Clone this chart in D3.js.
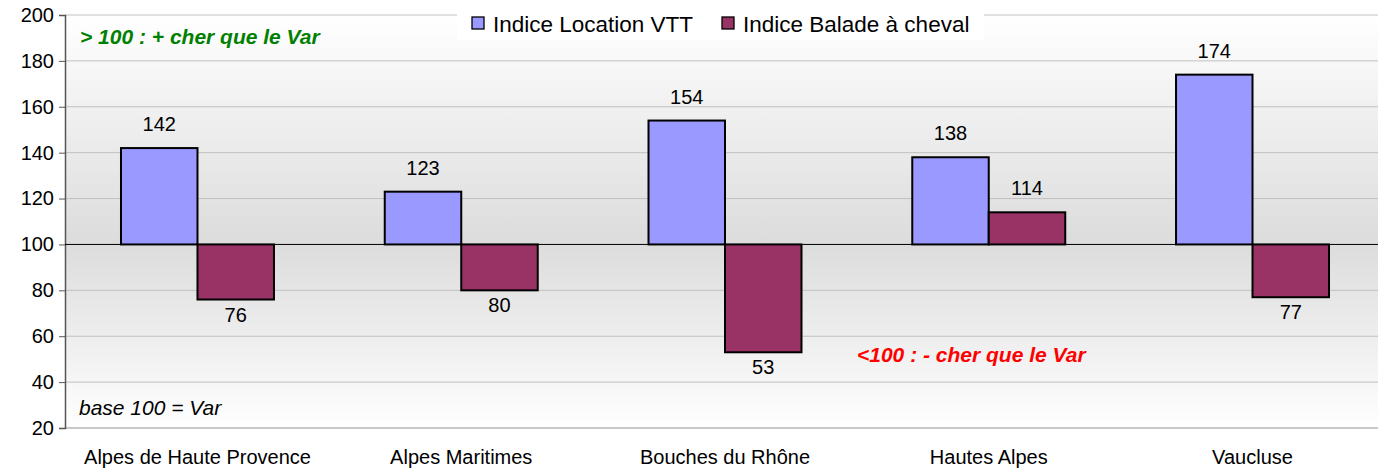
<!DOCTYPE html>
<html>
<head>
<meta charset="utf-8">
<script src="https://cdn.jsdelivr.net/npm/d3@7"></script>
<style>
  body { margin: 0; background: #fff; }
  text { font-family: "Liberation Sans", Arial, sans-serif; }
</style>
</head>
<body>
<div id="svg"></div>
<script>
const categories = ['Alpes de Haute Provence', 'Alpes Maritimes', 'Bouches du Rhône', 'Hautes Alpes', 'Vaucluse']
const seriesNames = ['Indice Location VTT', 'Indice Balade à cheval']
const vttValues = [142, 123, 154, 138, 174]
const chevalValues = [76, 80, 53, 114, 77]
const yTicks = [20, 40, 60, 80, 100, 120, 140, 160, 180, 200]
const colors = ['#9999ff', '#993366']
const baseValue = 100

const W = 1378, H = 468
const plotLeft = 65, plotRight = 1378, plotTop = 15, plotBottom = 428

const svg = d3.select('#svg')
    .append('svg')
    .attr('width', W)
    .attr('height', H)

const defs = svg.append('defs')
const grad = defs.append('linearGradient')
    .attr('id', 'bg')
    .attr('x1', 0).attr('y1', 0).attr('x2', 0).attr('y2', 1)
grad.append('stop').attr('offset', '0%').attr('stop-color', '#ffffff')
grad.append('stop').attr('offset', '55%').attr('stop-color', '#dcdcdc')
grad.append('stop').attr('offset', '100%').attr('stop-color', '#ffffff')

// bands run a little past the visible right edge, like the original
const x = d3.scaleBand().domain(categories).range([plotLeft, 1385]).paddingInner(0.42).paddingOuter(0.2123)
const xSub = d3.scaleBand().domain([0, 1]).range([0, x.bandwidth()])
const y = d3.scaleLinear().domain([20, 200]).range([plotBottom, plotTop])

svg.append('rect')
    .attr('x', plotLeft).attr('y', plotTop)
    .attr('width', plotRight - plotLeft).attr('height', plotBottom - plotTop)
    .attr('fill', 'url(#bg)')

// grid
svg.append('g')
    .selectAll('line')
    .data(yTicks)
    .enter()
    .append('line')
    .attr('x1', plotLeft).attr('x2', plotRight)
    .attr('y1', d => y(d)).attr('y2', d => y(d))
    .attr('stroke', d => d == 20 ? '#c8c8c8' : '#c0c0c0')
    .attr('stroke-width', d => d == 20 ? 2 : 1)

// y axis
const yAxis = svg.append('g')
    .attr('transform', 'translate(' + plotLeft + ',0)')
    .call(d3.axisLeft(y).tickValues(yTicks).tickSize(6).tickPadding(5))
yAxis.select('.domain').attr('stroke', '#555').attr('stroke-width', 1.5)
yAxis.selectAll('.tick line').attr('stroke', '#555')
yAxis.selectAll('.tick text')
    .attr('font-size', '20px')
    .attr('fill', '#000')
    .attr('font-family', '"Liberation Sans", Arial, sans-serif')

// x labels
svg.append('g')
    .selectAll('text')
    .data(categories)
    .enter()
    .append('text')
    .attr('x', d => x(d) + x.bandwidth() / 2)
    .attr('y', 464)
    .attr('text-anchor', 'middle')
    .attr('font-size', '20px')
    .text(d => d)

const data = []
categories.forEach((c, i) => {
    data.push({ cat: c, s: 0, v: vttValues[i] })
    data.push({ cat: c, s: 1, v: chevalValues[i] })
})

// baseline at 100
svg.append('line')
    .attr('x1', plotLeft).attr('x2', plotRight)
    .attr('y1', y(baseValue)).attr('y2', y(baseValue))
    .attr('stroke', '#000').attr('stroke-width', 1)

const bars = svg.append('g')
bars.selectAll('rect')
    .data(data)
    .enter()
    .append('rect')
    .attr('x', d => x(d.cat) + xSub(d.s))
    .attr('width', xSub.bandwidth())
    .attr('y', d => y(Math.max(d.v, baseValue)))
    .attr('height', d => Math.abs(y(d.v) - y(baseValue)))
    .attr('fill', d => colors[d.s])
    .attr('stroke', '#000')
    .attr('stroke-width', 2)

bars.selectAll('text')
    .data(data)
    .enter()
    .append('text')
    .attr('x', d => x(d.cat) + xSub(d.s) + xSub.bandwidth() / 2)
    .attr('y', d => d.v >= baseValue ? y(d.v) - 17 : y(d.v) + 22)
    .attr('text-anchor', 'middle')
    .attr('font-size', '20px')
    .text(d => d.v)

// annotations
svg.append('text')
    .attr('x', 80).attr('y', 44)
    .attr('font-size', '21px').attr('font-weight', 'bold').attr('font-style', 'italic')
    .attr('fill', '#008000')
    .text('> 100 : + cher que le Var')

svg.append('text')
    .attr('x', 857).attr('y', 362)
    .attr('font-size', '21px').attr('font-weight', 'bold').attr('font-style', 'italic')
    .attr('fill', '#ff0000')
    .text('<100 : - cher que le Var')

svg.append('text')
    .attr('x', 79).attr('y', 415)
    .attr('font-size', '21px').attr('font-style', 'italic')
    .attr('fill', '#000')
    .text('base 100 = Var')

// legend
const legend = svg.append('g')
legend.append('rect')
    .attr('x', 457).attr('y', 4).attr('width', 527).attr('height', 36)
    .attr('fill', '#fff')
const lx = [472, 722]
seriesNames.forEach((n, i) => {
    legend.append('rect')
        .attr('x', lx[i]).attr('y', 17).attr('width', 12).attr('height', 12)
        .attr('fill', colors[i]).attr('stroke', '#000').attr('stroke-width', 1.3)
    legend.append('text')
        .attr('x', lx[i] + 21).attr('y', 32)
        .attr('font-size', '22.5px')
        .text(n)
})
</script>
</body>
</html>
